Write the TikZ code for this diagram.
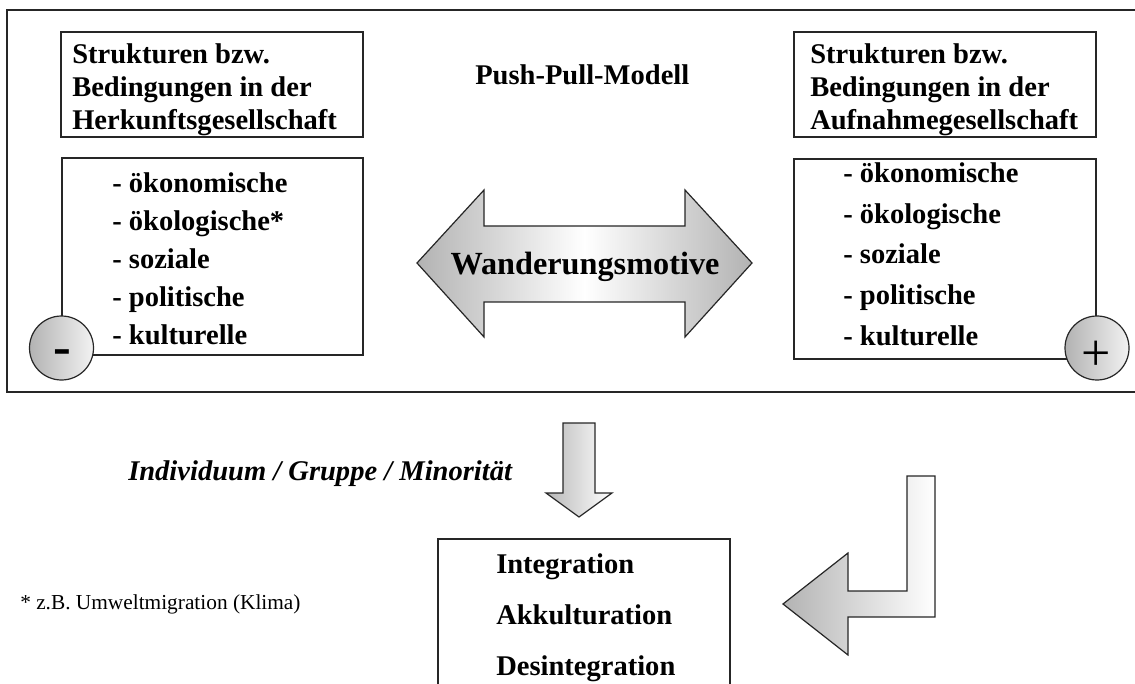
\documentclass[tikz,border=0pt]{standalone}
\usepackage{fontspec}
\setmainfont{Liberation Serif}
\usetikzlibrary{fit}
\begin{document}
\begin{tikzpicture}[x=0.75pt,y=-0.75pt,
  frame/.style={draw=black!85, line width=1.1pt},
  box/.style={draw=black!85, line width=1.1pt, inner sep=0pt},
  txt/.style={anchor=base west, inner sep=0pt, font=\fontsize{21.4}{25}\selectfont\bfseries},
  blockarrow/.style={draw=black!85, line width=0.9pt, line join=miter},
  sign/.style={circle, draw=black!85, line width=0.9pt, minimum size=48pt, inner sep=0pt, left color=black!30, right color=white!95!black}
]
\useasboundingbox (0,0) rectangle (1135,684);
\clip (0,0) rectangle (1135,684);

% outer frame around the push-pull part
\draw[frame] (1136,10) -- (7,10) -- (7,392) -- (1136,392);

% boxes
\node[box, fit={(61,32) (363,137)}] (herkT) {};
\node[box, fit={(794,32) (1096,137)}] (aufnT) {};
\node[box, fit={(62,158) (363,355)}] (herkL) {};
\node[box, fit={(794,159) (1096,359)}] (aufnL) {};
\node[box, fit={(438,539) (730,700)}] (result) {};

% titles of the two societies
\foreach \t [count=\i] in {Strukturen bzw., Bedingungen in der, Herkunftsgesellschaft}
  \node[txt] (herkT\i) at (72,{63.5+32.8*(\i-1)}) {\t};
\foreach \t [count=\i] in {Strukturen bzw., Bedingungen in der, Aufnahmegesellschaft}
  \node[txt] (aufnT\i) at (810,{63.5+32.8*(\i-1)}) {\t};

\node[txt] (title) at (475,85) {Push-Pull-Modell};

% lists of factors
\foreach \t [count=\i] in {- ökonomische, - ökologische*, - soziale, - politische, - kulturelle}
  \node[txt] (herkL\i) at (112,{193+37.8*(\i-1)}) {\t};
\foreach \t [count=\i] in {- ökonomische, - ökologische, - soziale, - politische, - kulturelle}
  \node[txt] (aufnL\i) at (843,{183+40.5*(\i-1)}) {\t};

% push / pull signs
\node[sign] (push) at (61.5,348) {};
\node[anchor=base, inner sep=0pt, font=\fontsize{40}{40}\selectfont\bfseries] (minus) at (62,364) {-};
\node[sign] (pull) at (1097,348) {};
\node[anchor=base, inner sep=0pt, font=\fontsize{39}{39}\selectfont] (plus) at (1096,370) {+};

% double arrow of migration motives
\draw[blockarrow, left color=black!30, right color=black!30, middle color=white]
  (417,263) -- (484,190) -- (484,226) -- (685,226) -- (685,190) -- (752,263)
  -- (685,337) -- (685,302) -- (484,302) -- (484,337) -- cycle;
\node[anchor=base, inner sep=0pt, font=\fontsize{24.2}{28}\selectfont\bfseries] (motive) at (585,275) {Wanderungsmotive};

% arrow down to the outcome
\draw[blockarrow, left color=black!28, right color=white]
  (563,423) -- (595,423) -- (595,493) -- (612,493) -- (579,517) -- (546,493) -- (563,493) -- cycle;

% bent arrow back into the outcome
\draw[blockarrow, left color=black!30, right color=white]
  (907,476) -- (935,476) -- (935,617) -- (848,617) -- (848,655) -- (783,604)
  -- (848,553) -- (848,591) -- (907,591) -- cycle;

\node[txt, font=\fontsize{21.4}{25}\selectfont\bfseries\itshape] (actor) at (128,480) {Individuum / Gruppe / Minorität};

\node[anchor=base west, inner sep=0pt, font=\fontsize{16}{19}\selectfont] (note) at (20,609) {* z.B. Umweltmigration (Klima)};

% outcomes
\foreach \t [count=\i] in {Integration, Akkulturation, Desintegration}
  \node[txt] (res\i) at (496,{573+51*(\i-1)}) {\t};
\end{tikzpicture}
\end{document}
